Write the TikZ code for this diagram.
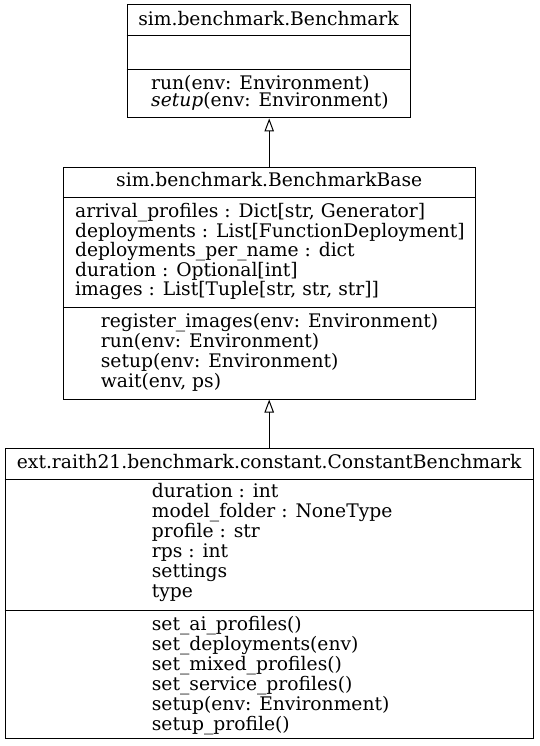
\documentclass[tikz,border=0pt]{standalone}
\usepackage{fontspec}
\setmainfont{DejaVu Serif}
\usetikzlibrary{arrows.meta}
\begin{document}
\begin{tikzpicture}[x=1pt,y=-1pt,
  umlbox/.style={draw,line width=1pt,rectangle,inner sep=0pt},
  divline/.style={line width=1pt},
  txt/.style={inner sep=0pt,yshift=-2pt,font=\fontsize{18.7}{20}\selectfont},
  inherit/.style={line width=1pt,-{Triangle[open,width=9.5pt,length=13pt]}}]
\useasboundingbox (0,0) rectangle (539,746);
% Box 1
\node[umlbox,minimum width=283pt,minimum height=113pt] (b1) at (268.5,61.5) {};
\draw[divline] (b1.west |- 0,36) -- (b1.east |- 0,36);
\draw[divline] (b1.west |- 0,70) -- (b1.east |- 0,70);
\node[txt,anchor=mid] (t1) at (268.5,20.5) {sim.benchmark.Benchmark};
\node[txt,anchor=mid west] (m11) at (151,85) {run(env: Environment)};
\node[txt,anchor=mid west] (m12) at (151,102) {\textit{setup}(env: Environment)};
% Box 2
\node[umlbox,minimum width=411.7pt,minimum height=231.7pt] (b2) at (269.2,283.2) {};
\draw[divline] (b2.west |- 0,197.7) -- (b2.east |- 0,197.7);
\draw[divline] (b2.west |- 0,307.7) -- (b2.east |- 0,307.7);
\node[txt,anchor=mid] (t2) at (269.2,181.7) {sim.benchmark.BenchmarkBase};
\node[txt,anchor=mid west] (a21) at (75,213.3) {arrival\_profiles : Dict[str, Generator]};
\node[txt,anchor=mid west] (a22) at (75,232.8) {deployments : List[FunctionDeployment]};
\node[txt,anchor=mid west] (a23) at (75,252.3) {deployments\_per\_name : dict};
\node[txt,anchor=mid west] (a24) at (75,271.8) {duration : Optional[int]};
\node[txt,anchor=mid west] (a25) at (75,291.3) {images : List[Tuple[str, str, str]]};
\node[txt,anchor=mid west] (m21) at (100.7,323.3) {register\_images(env: Environment)};
\node[txt,anchor=mid west] (m22) at (100.7,343.1) {run(env: Environment)};
\node[txt,anchor=mid west] (m23) at (100.7,362.9) {setup(env: Environment)};
\node[txt,anchor=mid west] (m24) at (100.7,382.7) {wait(env, ps)};
% Box 3
\node[umlbox,minimum width=528.3pt,minimum height=290pt] (b3) at (269.2,593.3) {};
\draw[divline] (b3.west |- 0,479) -- (b3.east |- 0,479);
\draw[divline] (b3.west |- 0,610) -- (b3.east |- 0,610);
\node[txt,anchor=mid] (t3) at (269.2,464) {ext.raith21.benchmark.constant.ConstantBenchmark};
\node[txt,anchor=mid west] (a31) at (151.7,493.3) {duration : int};
\node[txt,anchor=mid west] (a32) at (151.7,513.3) {model\_folder : NoneType};
\node[txt,anchor=mid west] (a33) at (151.7,533.3) {profile : str};
\node[txt,anchor=mid west] (a34) at (151.7,553.3) {rps : int};
\node[txt,anchor=mid west] (a35) at (151.7,573.3) {settings};
\node[txt,anchor=mid west] (a36) at (151.7,593.3) {type};
\node[txt,anchor=mid west] (m31) at (151.7,625.5) {set\_ai\_profiles()};
\node[txt,anchor=mid west] (m32) at (151.7,645.5) {set\_deployments(env)};
\node[txt,anchor=mid west] (m33) at (151.7,665.5) {set\_mixed\_profiles()};
\node[txt,anchor=mid west] (m34) at (151.7,685.5) {set\_service\_profiles()};
\node[txt,anchor=mid west] (m35) at (151.7,705.5) {setup(env: Environment)};
\node[txt,anchor=mid west] (m36) at (151.7,725.5) {setup\_profile()};
% Inheritance
\draw[inherit] (b2.north) -- (b2.north |- b1.south);
\draw[inherit] (b3.north) -- (b3.north |- b2.south);
\end{tikzpicture}
\end{document}
